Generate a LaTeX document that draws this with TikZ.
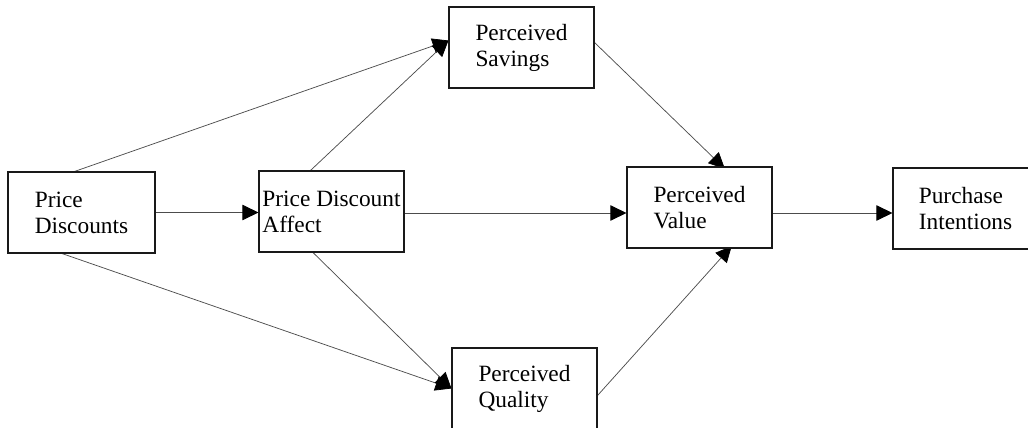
\documentclass[tikz,border=0pt]{standalone}
\usepackage{fontspec}
\setmainfont{Liberation Serif}
\usetikzlibrary{calc,arrows.meta,positioning,backgrounds}
\tikzset{
myBox/.style={
	rectangle,draw=black!90,line width=0.8pt,fill=white,
	inner sep=0pt,minimum width=108.75pt,minimum height=60.75pt,
	align=left,font=\fontsize{17.5}{19.5}\selectfont
}
, myLink/.style={-{Triangle[length=12pt,width=11.5pt,color=black]},draw=black!70,line width=0.55pt}
, myLinkIn/.style={myLink,shorten >=-2.5pt}
}
\begin{document}
\begin{tikzpicture}[x=0.75pt,y=-0.75pt]
	\useasboundingbox (0,0) rectangle (1028,428);
	% nodes
	\node[myBox,minimum width=110.25pt] (Disc) at (81.5,212.5) {Price\\Discounts};
	\node[myBox] (Affect) at (331.5,211.5) {Price Discount\\Affect};
	\node[myBox] (Sav) at (521.5,47.5) {Perceived\\Savings};
	\node[myBox] (Qual) at (524.5,388.5) {Perceived\\Quality};
	\node[myBox] (Val) at (699.5,207.5) {Perceived\\Value};
	\node[myBox] (Purch) at (965.5,208.5) {Purchase\\Intentions};
	% start points
	\coordinate (AffectOut) at ($(Affect.east)+(0,1.5)$);
	\coordinate (ValOut) at ($(Val.east)+(0,5.5)$);

	% links
	\begin{scope}[on background layer]
	\draw[myLink] (Disc.east) -- (Disc.east -| Affect.west);
	\draw[myLink] ($(Disc.north)+(-7,0)$) -- ($(Sav.west)+(0,-7)$);
	\draw[myLink] ($(Affect.north)+(-21,0)$) -- ($(Sav.west)+(0,-7)$);
	\draw[myLink] ($(Disc.south)+(-19.5,0)$) -- (Qual.west);
	\draw[myLink] ($(Affect.south)+(-18.5,0)$) -- (Qual.west);
	\draw[myLink] (AffectOut) -- (AffectOut -| Val.west);
	\draw[myLinkIn] ($(Sav.east)+(0,-5)$) -- ($(Val.north)+(23,0)$);
	\draw[myLinkIn] ($(Qual.east)+(0,7)$) -- ($(Val.south)+(30,0)$);
	\draw[myLink] (ValOut) -- (ValOut -| Purch.west);
	\end{scope}
\end{tikzpicture}
\end{document}
